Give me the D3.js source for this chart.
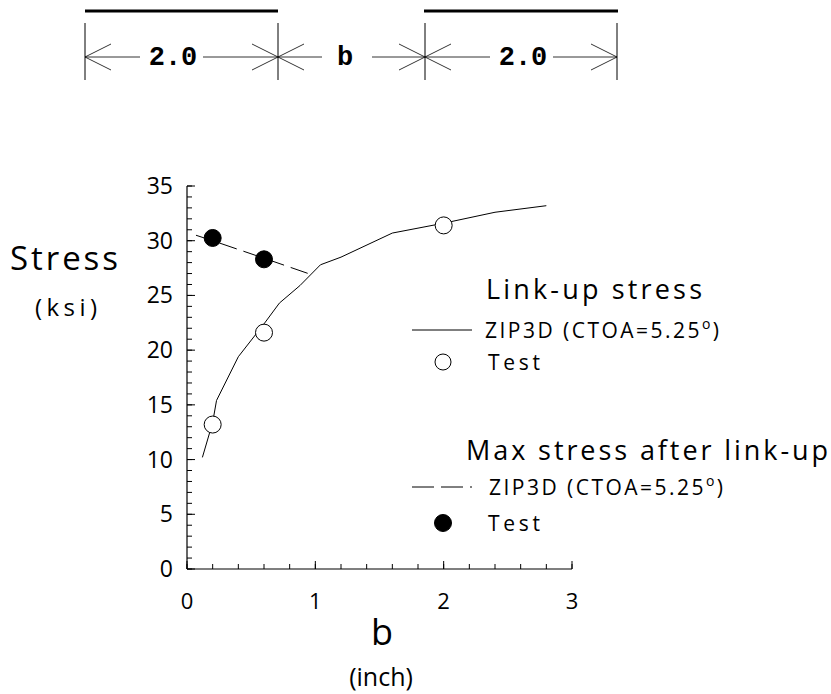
<!DOCTYPE html>
<html>
<head>
<meta charset="utf-8">
<script src="https://cdn.jsdelivr.net/npm/d3@7"></script>
<style>
  body { margin: 0; background: #fff; }
  text { font-family: "Open Sans", "DejaVu Sans", sans-serif; fill: #000; }
  .mono { font-family: "Liberation Mono", "Courier New", monospace; font-weight: bold; }
</style>
</head>
<body>
<svg id="chart" width="831" height="694"></svg>
<script>
// ZIP3D link-up stress curve (b in inch, stress in ksi)
const linkupB =      [0.12, 0.2, 0.23, 0.4, 0.6, 0.72, 0.88, 1.04, 1.2, 1.6, 2.0, 2.4, 2.8];
const linkupStress = [10.2, 13.4, 15.4, 19.4, 22.4, 24.3, 25.9, 27.8, 28.5, 30.7, 31.6, 32.6, 33.2];
// ZIP3D max stress after link-up
const maxB =      [0.07, 0.2, 0.6, 0.97];
const maxStress = [30.5, 30.0, 28.4, 26.9];
// test data
const linkupTestB =      [0.2, 0.6, 2.0];
const linkupTestStress = [13.2, 21.6, 31.4];
const maxTestB =      [0.2, 0.6];
const maxTestStress = [30.25, 28.3];

const xTickValues = [0, 1, 2, 3];
const yTickValues = [0, 5, 10, 15, 20, 25, 30, 35];

const svg = d3.select("#chart");

const x = d3.scaleLinear().domain([0, 3]).range([187, 572]);
const y = d3.scaleLinear().domain([0, 35]).range([569, 186]);

// ---- dimension sketch at the top ----
const sketch = svg.append("g");
sketch.append("line").attr("x1", 85).attr("x2", 278).attr("y1", 11).attr("y2", 11)
    .attr("stroke", "#000").attr("stroke-width", 3);
sketch.append("line").attr("x1", 424).attr("x2", 618).attr("y1", 11).attr("y2", 11)
    .attr("stroke", "#000").attr("stroke-width", 3);
[85, 278, 425, 617].forEach(function(xv) {
    sketch.append("line").attr("x1", xv).attr("x2", xv).attr("y1", 23).attr("y2", 80)
        .attr("stroke", "#000").attr("stroke-width", 1);
});
const arrowY = 57;
function arrowHead(xTip, dir) {
    // dir = -1 points left, +1 points right
    sketch.append("path")
        .attr("d", "M" + (xTip - dir * 26) + "," + (arrowY - 13) + "L" + xTip + "," + arrowY +
                   "L" + (xTip - dir * 26) + "," + (arrowY + 13))
        .attr("fill", "none").attr("stroke", "#000").attr("stroke-width", 0.8);
}
const spans = [
    { a: 85, b: 278, label: "2.0", gapL: 140, gapR: 203, tx: 173 },
    { a: 278, b: 425, label: "b", gapL: 322, gapR: 372, tx: 345 },
    { a: 425, b: 617, label: "2.0", gapL: 490, gapR: 553, tx: 523 }
];
spans.forEach(function(s) {
    sketch.append("line").attr("x1", s.a).attr("x2", s.gapL).attr("y1", arrowY).attr("y2", arrowY)
        .attr("stroke", "#000").attr("stroke-width", 0.8);
    sketch.append("line").attr("x1", s.gapR).attr("x2", s.b).attr("y1", arrowY).attr("y2", arrowY)
        .attr("stroke", "#000").attr("stroke-width", 0.8);
    arrowHead(s.a, -1);
    arrowHead(s.b, 1);
    sketch.append("text").attr("class", "mono")
        .attr("x", s.tx).attr("y", 65)
        .attr("text-anchor", "middle").attr("font-size", 27)
        .text(s.label);
});

// ---- axes ----
const axes = svg.append("g");
axes.append("line").attr("x1", x(0)).attr("x2", x(3)).attr("y1", y(0)).attr("y2", y(0))
    .attr("stroke", "#000").attr("stroke-width", 1.2);
axes.append("line").attr("x1", x(0)).attr("x2", x(0)).attr("y1", y(0)).attr("y2", y(35))
    .attr("stroke", "#000").attr("stroke-width", 1.2);

const xMinor = d3.range(0, 3.001, 0.2);
axes.selectAll(".xminor").data(xMinor).enter().append("line")
    .attr("x1", d => x(d)).attr("x2", d => x(d))
    .attr("y1", y(0)).attr("y2", y(0) - 5)
    .attr("stroke", "#000");
axes.selectAll(".xmajor").data(xTickValues).enter().append("line")
    .attr("x1", d => x(d)).attr("x2", d => x(d))
    .attr("y1", y(0)).attr("y2", y(0) - 8)
    .attr("stroke", "#000");
axes.selectAll(".xlab").data(xTickValues).enter().append("text")
    .attr("x", d => x(d)).attr("y", 609)
    .attr("text-anchor", "middle").attr("font-size", 22)
    .text(d => d);

const yMinor = d3.range(0, 35.001, 1);
axes.selectAll(".yminor").data(yMinor).enter().append("line")
    .attr("x1", x(0)).attr("x2", x(0) + 5)
    .attr("y1", d => y(d)).attr("y2", d => y(d))
    .attr("stroke", "#000");
axes.selectAll(".ymajor").data(yTickValues).enter().append("line")
    .attr("x1", x(0)).attr("x2", x(0) + 8)
    .attr("y1", d => y(d)).attr("y2", d => y(d))
    .attr("stroke", "#000");
axes.selectAll(".ylab").data(yTickValues).enter().append("text")
    .attr("x", x(0) - 14).attr("y", d => y(d) + 8)
    .attr("text-anchor", "end").attr("font-size", 23)
    .text(d => d);

// axis titles
svg.append("text").attr("x", 10).attr("y", 270)
    .attr("font-size", 33).attr("textLength", 108).attr("lengthAdjust", "spacing")
    .text("Stress");
svg.append("text").attr("x", 35).attr("y", 316)
    .attr("font-size", 24).attr("textLength", 62).attr("lengthAdjust", "spacing")
    .text("(ksi)");
svg.append("text").attr("x", 382).attr("y", 645).attr("text-anchor", "middle")
    .attr("font-size", 36).text("b");
svg.append("text").attr("x", 381).attr("y", 686).attr("text-anchor", "middle")
    .attr("font-size", 25).text("(inch)");

// ---- curves ----
const line = d3.line().x(d => x(d[0])).y(d => y(d[1]));
svg.append("path")
    .datum(d3.zip(linkupB, linkupStress))
    .attr("d", line)
    .attr("fill", "none").attr("stroke", "#000").attr("stroke-width", 1);
svg.append("path")
    .datum(d3.zip(maxB, maxStress))
    .attr("d", line)
    .attr("fill", "none").attr("stroke", "#000").attr("stroke-width", 1)
    .attr("stroke-dasharray", "18,7");

svg.selectAll(".openpt").data(d3.zip(linkupTestB, linkupTestStress)).enter().append("circle")
    .attr("cx", d => x(d[0])).attr("cy", d => y(d[1])).attr("r", 8.5)
    .attr("fill", "#fff").attr("stroke", "#000").attr("stroke-width", 1);
svg.selectAll(".filledpt").data(d3.zip(maxTestB, maxTestStress)).enter().append("circle")
    .attr("cx", d => x(d[0])).attr("cy", d => y(d[1])).attr("r", 8.5)
    .attr("fill", "#000").attr("stroke", "#000").attr("stroke-width", 1);

// ---- legend ----
const legend = svg.append("g");
function legendTitle(text, xPos, yPos, width) {
    legend.append("text").attr("x", xPos).attr("y", yPos)
        .attr("font-size", 27).attr("textLength", width).attr("lengthAdjust", "spacing")
        .text(text);
}
function zipLabel(xPos, yPos) {
    const t = legend.append("text").attr("x", xPos).attr("y", yPos)
        .attr("font-size", 21).attr("textLength", 234).attr("lengthAdjust", "spacing");
    t.append("tspan").text("ZIP3D (CTOA=5.25");
    t.append("tspan").attr("dy", -9).attr("font-size", 14).text("o");
    t.append("tspan").attr("dy", 9).text(")");
}
function testLabel(xPos, yPos) {
    legend.append("text").attr("x", xPos).attr("y", yPos)
        .attr("font-size", 21).attr("textLength", 52).attr("lengthAdjust", "spacing")
        .text("Test");
}
legendTitle("Link-up stress", 486, 299, 216);
legend.append("line").attr("x1", 412).attr("x2", 472).attr("y1", 330).attr("y2", 330)
    .attr("stroke", "#000");
zipLabel(485, 338);
legend.append("circle").attr("cx", 443).attr("cy", 362).attr("r", 8)
    .attr("fill", "#fff").attr("stroke", "#000");
testLabel(488, 370);

legendTitle("Max stress after link-up", 466, 460, 362);
legend.append("line").attr("x1", 412).attr("x2", 472).attr("y1", 487).attr("y2", 487)
    .attr("stroke", "#000").attr("stroke-dasharray", "22,7");
zipLabel(489, 495);
legend.append("circle").attr("cx", 443).attr("cy", 523).attr("r", 8.5)
    .attr("fill", "#000").attr("stroke", "#000");
testLabel(488, 531);
</script>
</body>
</html>
